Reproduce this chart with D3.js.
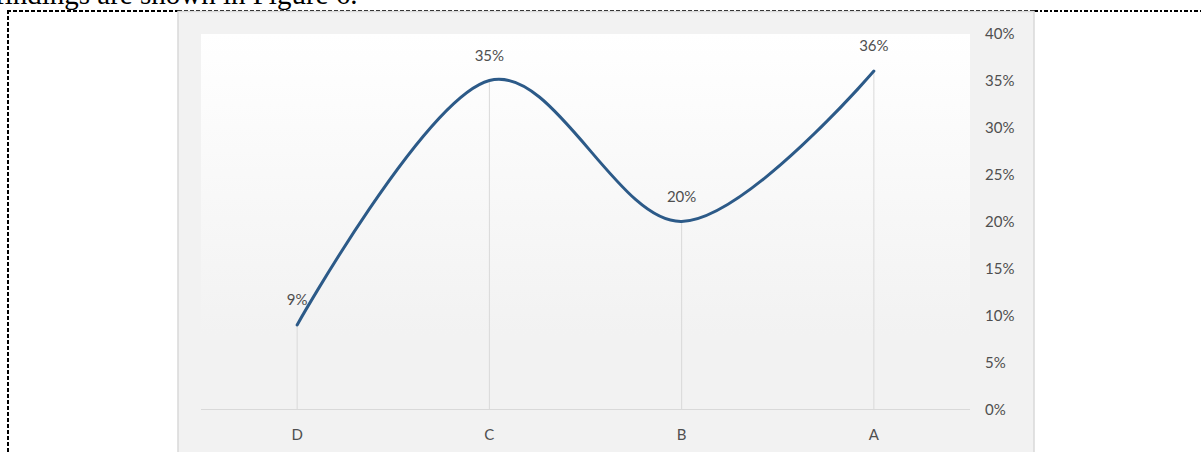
<!DOCTYPE html>
<html>
<head>
<meta charset="utf-8">
<script src="https://cdn.jsdelivr.net/npm/d3@7/dist/d3.min.js"></script>
<style>
  html, body { margin: 0; padding: 0; background: #fff; overflow: hidden; }
  svg { display: block; }
</style>
</head>
<body>
<svg id="chart" width="1201" height="452"></svg>
<script>
// Share of respondents per group
const categories = ["D", "C", "B", "A"];
const values = [9, 35, 20, 36];
const yTicks = [0, 5, 10, 15, 20, 25, 30, 35, 40];

const svg = d3.select("#chart");
const W = 1201, H = 452;

// Running text of the surrounding document, clipped at the top
svg.append("text")
  .attr("x", -5).attr("y", 4)
  .attr("font-family", "Liberation Serif, Times New Roman, serif")
  .attr("font-size", 29)
  .attr("fill", "#000")
  .text("findings are shown in Figure 6.");

// Chart area
const box = { x: 178, y: 11, w: 856, h: H - 11 };

// Dashed frame around the figure
svg.append("line")
  .attr("x1", 7).attr("x2", box.x).attr("y1", 11).attr("y2", 11)
  .attr("stroke", "#000").attr("stroke-width", 2)
  .attr("stroke-dasharray", "4,2");
svg.append("line")
  .attr("x1", box.x + box.w).attr("x2", W).attr("y1", 11).attr("y2", 11)
  .attr("stroke", "#000").attr("stroke-width", 2)
  .attr("stroke-dasharray", "4,2,2,2");
svg.append("line")
  .attr("x1", box.x).attr("x2", box.x + box.w).attr("y1", 10.5).attr("y2", 10.5)
  .attr("stroke", "#000").attr("stroke-width", 1)
  .attr("stroke-dasharray", "4,2");
svg.append("line")
  .attr("x1", 8).attr("x2", 8).attr("y1", 10).attr("y2", H)
  .attr("stroke", "#000").attr("stroke-width", 2)
  .attr("stroke-dasharray", "4,2");

svg.append("rect")
  .attr("x", box.x).attr("y", box.y + 0.5).attr("width", box.w).attr("height", box.h + 2)
  .attr("fill", "#f2f2f2")
  .attr("stroke", "#d9d9d9").attr("stroke-width", 1.5);

const plot = { left: 201, right: 970, top: 34, bottom: 410 };

const defs = svg.append("defs");
const grad = defs.append("linearGradient")
  .attr("id", "plotFill").attr("x1", 0).attr("x2", 0).attr("y1", 0).attr("y2", 1);
grad.append("stop").attr("offset", "0%").attr("stop-color", "#ffffff");
grad.append("stop").attr("offset", "80%").attr("stop-color", "#f2f2f2");
grad.append("stop").attr("offset", "100%").attr("stop-color", "#f2f2f2");

svg.append("rect")
  .attr("x", plot.left).attr("y", plot.top)
  .attr("width", plot.right - plot.left).attr("height", plot.bottom - plot.top)
  .attr("fill", "url(#plotFill)");

const x = d3.scaleBand().domain(categories).range([plot.left, plot.right]);
const y = d3.scaleLinear().domain([0, 40]).range([409.5, 33.5]);
const cx = d => x(d) + x.bandwidth() / 2;

const textColor = "#4f4f4f";
const font = "Lato, Open Sans, Liberation Sans, Arial, sans-serif";
const fontSize = 15;

// Drop lines from each point to the category axis
svg.append("g").selectAll("line")
  .data(categories)
  .join("line")
  .attr("x1", d => cx(d)).attr("x2", d => cx(d))
  .attr("y1", (d, i) => y(values[i])).attr("y2", y(0))
  .attr("stroke", "#d9d9d9").attr("stroke-width", 1);

// Category axis line
svg.append("line")
  .attr("x1", plot.left).attr("x2", plot.right)
  .attr("y1", y(0)).attr("y2", y(0))
  .attr("stroke", "#d9d9d9").attr("stroke-width", 1.2);

// Category labels
const xAxis = d3.axisBottom(x).tickSize(0).tickPadding(0);
const gx = svg.append("g")
  .attr("transform", `translate(0,${y(0) + 20})`)
  .call(xAxis);
gx.select(".domain").remove();
gx.selectAll("text")
  .attr("font-family", font).attr("font-size", fontSize)
  .attr("fill", textColor);

// Value axis on the right
const yAxis = d3.axisRight(y).tickValues(yTicks).tickSize(0).tickPadding(0)
  .tickFormat(d => d + "%");
const gy = svg.append("g")
  .attr("transform", "translate(985,0)")
  .call(yAxis);
gy.select(".domain").remove();
gy.selectAll("text")
  .attr("font-family", font).attr("font-size", fontSize)
  .attr("fill", textColor);

// Smoothed line
const line = d3.line()
  .x((d, i) => cx(categories[i]))
  .y(d => y(d))
  .curve(d3.curveCatmullRom.alpha(0));
svg.append("path")
  .datum(values)
  .attr("d", line)
  .attr("fill", "none")
  .attr("stroke", "#2c5a88")
  .attr("stroke-width", 3)
  .attr("stroke-linecap", "round");

// Data labels
svg.append("g").selectAll("text")
  .data(values)
  .join("text")
  .attr("x", (d, i) => cx(categories[i]))
  .attr("y", d => y(d) - 20)
  .attr("text-anchor", "middle")
  .attr("font-family", font).attr("font-size", fontSize)
  .attr("fill", textColor)
  .text(d => d + "%");
</script>
</body>
</html>
